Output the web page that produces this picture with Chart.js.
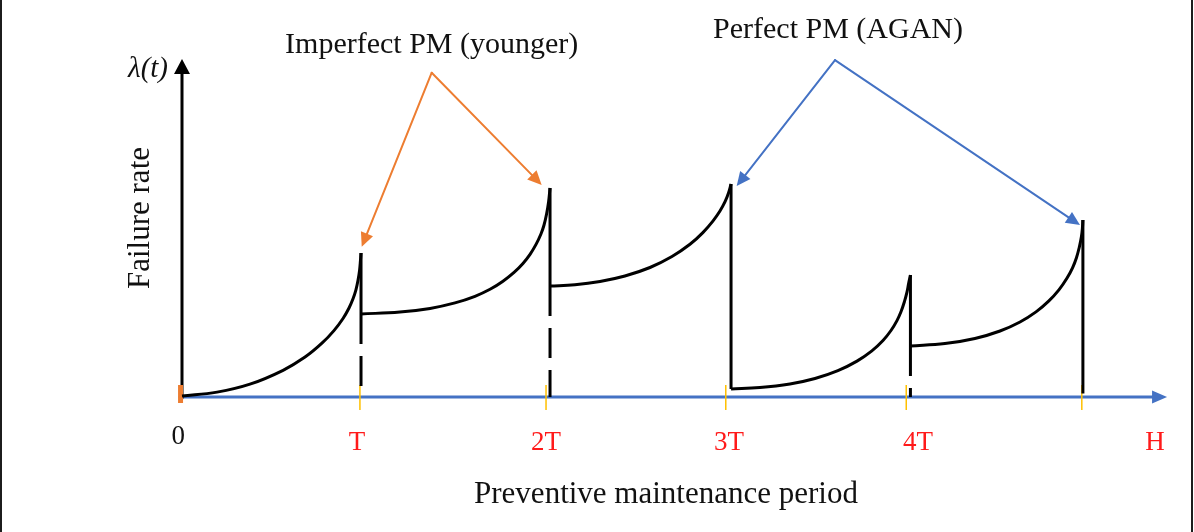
<!DOCTYPE html>
<html>
<head>
<meta charset="utf-8">
<script src="https://cdn.jsdelivr.net/npm/chart.js@4/dist/chart.umd.min.js"></script>
<style>
  html, body { margin: 0; padding: 0; background: #fff; }
  #wrap { position: relative; width: 1194px; height: 532px; overflow: hidden; background: #fff; }
  #wrap canvas { display: block; }
  .edge { position: absolute; top: 0; bottom: 0; width: 2px; background: #1c1c1c; }
</style>
</head>
<body>
<div id="wrap">
  <canvas id="c" width="1194" height="532"></canvas>
  <div class="edge" style="left:0"></div>
  <div class="edge" style="left:1191px"></div>
</div>
<script>
// Time axis is measured in PM intervals (T); failure rate in arbitrary units.

// Tick labels along the period axis and where they sit
const tickLabels = ['0', 'T', '2T', '3T', '4T', 'H'];
const tickValues = [-0.02, 0.963, 2.003, 3.01, 4.05, 5.354];
// Small notches on the axis at each PM instant
const notchValues = [0.979, 2.003, 2.992, 3.985, 4.951];

// Failure-rate curve between successive maintenance actions
const seg1 = [[0, 0.33], [0.193, 1.63], [0.374, 4.27], [0.556, 8.9], [0.677, 13.3], [0.770, 17.93], [0.836, 22.13],
  [0.886, 26.17], [0.919, 29.67], [0.941, 32.73], [0.957, 35.73], [0.968, 38.73], [0.977, 42.23], [0.982, 45.57],
  [0.985, 48.0]];
const seg2 = [[0.985, 27.67], [1.199, 28.33], [1.365, 29.53], [1.502, 31.37], [1.612, 33.57], [1.695, 35.9],
  [1.766, 38.6], [1.827, 41.53], [1.876, 44.53], [1.915, 47.57], [1.948, 50.87], [1.975, 54.33], [1.992, 57.33],
  [2.006, 61.0], [2.017, 65.0], [2.025, 69.67]];
const seg3 = [[2.025, 37.0], [2.162, 37.42], [2.300, 38.5], [2.437, 40.33], [2.575, 43.17], [2.696, 46.83],
  [2.795, 50.9], [2.866, 54.8], [2.921, 58.63], [2.960, 62.0], [2.988, 65.1], [3.007, 68.0], [3.021, 71.0]];
const seg4 = [[3.021, 2.67], [3.180, 3.15], [3.345, 4.35], [3.483, 6.18], [3.609, 8.8], [3.714, 11.97],
  [3.796, 15.37], [3.857, 18.83], [3.901, 22.17], [3.934, 25.47], [3.956, 28.4], [3.975, 31.8], [3.989, 34.97],
  [3.998, 37.8], [4.008, 40.67]];
const seg5 = [[4.008, 17.0], [4.198, 17.8], [4.363, 19.5], [4.501, 22.0], [4.611, 25.0], [4.699, 28.37],
  [4.770, 32.03], [4.825, 35.7], [4.869, 39.57], [4.900, 43.07], [4.922, 46.53], [4.938, 50.13], [4.949, 53.47],
  [4.954, 56.0], [4.957, 59.0]];
const segments = [seg1, seg2, seg3, seg4, seg5];

// Maintenance instants: rate just before, rate just after, and whether it was imperfect
const pmX = [0.985, 2.025, 3.021, 4.008, 4.957];
const pmPeak = [48.0, 69.67, 71.0, 40.67, 59.0];
const pmReset = [27.67, 37.0, 2.67, 17.0, 1.2];
const pmImperfect = [true, true, false, true, false];

// Callouts: text, the point they fan out from, and the peaks they point at
const calloutText = ['Imperfect PM (younger)', 'Perfect PM (AGAN)'];
const calloutColor = ['#ED7D31', '#4472C4'];
const calloutApex = [[1.374, 108.1], [3.593, 112.3]];
const calloutTips = [[[0.989, 50.1], [1.979, 70.7]], [[3.052, 70.3], [4.941, 57.3]]];

const AXIS_END_X = 5.42;   // tip of the period-axis arrow
const AXIS_END_Y = 112.7;  // tip of the rate-axis arrow

const toPts = arr => arr.map(p => ({ x: p[0], y: p[1] }));

const datasets = [];
segments.forEach(seg => datasets.push({
  data: toPts(seg), borderColor: '#000', borderWidth: 3,
  tension: 0.4, pointRadius: 0, clip: false
}));
pmX.forEach((x, i) => {
  datasets.push({
    data: [{ x, y: pmPeak[i] }, { x, y: pmReset[i] }],
    borderColor: '#000', borderWidth: 3, pointRadius: 0, clip: false
  });
  if (pmImperfect[i]) {
    datasets.push({
      data: [{ x, y: pmReset[i] }, { x, y: 0 }],
      borderColor: '#000', borderWidth: 3, borderDash: [30, 12], pointRadius: 0, clip: false
    });
  }
});
notchValues.forEach(x => datasets.push({
  data: [{ x, y: 4 }, { x, y: -4.3 }],
  borderColor: '#FFC000', borderWidth: 1.5, pointRadius: 0, clip: false
}));
// origin marker
datasets.push({
  data: [{ x: -0.008, y: 4 }, { x: -0.008, y: -2 }],
  borderColor: '#ED7D31', borderWidth: 5, pointRadius: 0, clip: false
});

function arrowHead(ctx, x1, y1, x2, y2, len, half, color) {
  const a = Math.atan2(y2 - y1, x2 - x1);
  const bx = x2 - len * Math.cos(a), by = y2 - len * Math.sin(a);
  ctx.fillStyle = color;
  ctx.beginPath();
  ctx.moveTo(x2, y2);
  ctx.lineTo(bx + half * Math.sin(a), by - half * Math.cos(a));
  ctx.lineTo(bx - half * Math.sin(a), by + half * Math.cos(a));
  ctx.closePath();
  ctx.fill();
}
function arrow(ctx, x1, y1, x2, y2, color, width, len, half) {
  ctx.save();
  const a = Math.atan2(y2 - y1, x2 - x1);
  const bx = x2 - (len - 2) * Math.cos(a), by = y2 - (len - 2) * Math.sin(a);
  ctx.strokeStyle = color; ctx.lineWidth = width; ctx.lineCap = 'round';
  ctx.beginPath(); ctx.moveTo(x1, y1); ctx.lineTo(bx, by); ctx.stroke();
  arrowHead(ctx, x1, y1, x2, y2, len, half, color);
  ctx.restore();
}

const diagram = {
  id: 'diagram',
  beforeDatasetsDraw(chart) {
    const { ctx, scales: { x, y } } = chart;
    const x0 = x.getPixelForValue(0), y0 = y.getPixelForValue(0);
    // period axis (blue)
    arrow(ctx, x0 - 2, y0, x.getPixelForValue(AXIS_END_X), y0, '#4472C4', 3, 15, 6.5);
    // failure-rate axis (black)
    arrow(ctx, x0, y0 + 1, x0, y.getPixelForValue(AXIS_END_Y), '#000', 3, 15, 8);
  },
  afterDatasetsDraw(chart) {
    const { ctx, scales: { x, y } } = chart;
    ctx.save();
    // callout arrows and their text
    calloutApex.forEach((ap, i) => {
      const ax = x.getPixelForValue(ap[0]), ay = y.getPixelForValue(ap[1]);
      calloutTips[i].forEach(t => {
        arrow(ctx, ax, ay, x.getPixelForValue(t[0]), y.getPixelForValue(t[1]), calloutColor[i], 2, 14, 6.5);
      });
      ctx.fillStyle = '#111';
      ctx.font = '30px "Liberation Serif", "Times New Roman", serif';
      ctx.textAlign = 'center'; ctx.textBaseline = 'middle';
      ctx.fillText(calloutText[i], ax + (i === 0 ? 0 : 3), ay - (i === 0 ? 28 : 30));
    });
    // tick labels
    ctx.font = '27px "Liberation Serif", "Times New Roman", serif';
    ctx.textAlign = 'center'; ctx.textBaseline = 'middle';
    tickLabels.forEach((lab, i) => {
      ctx.fillStyle = i === 0 ? '#111' : '#FF1A1A';
      ctx.fillText(lab, x.getPixelForValue(tickValues[i]), y.getPixelForValue(0) + (i === 0 ? 40 : 46));
    });
    // axis titles
    ctx.fillStyle = '#111';
    ctx.font = '31px "Liberation Serif", "Times New Roman", serif';
    ctx.fillText('Preventive maintenance period', 666, 495);
    ctx.save();
    ctx.translate(141, 218);
    ctx.rotate(-Math.PI / 2);
    ctx.fillText('Failure rate', 0, 0);
    ctx.restore();
    // rate symbol at the top of the vertical axis
    ctx.font = 'italic 29px "Liberation Serif", "Times New Roman", serif';
    ctx.textAlign = 'right';
    ctx.fillText('\u03BB(t)', 168, 69);
    ctx.restore();
  }
};

new Chart(document.getElementById('c'), {
  type: 'line',
  data: { datasets },
  options: {
    responsive: false,
    animation: false,
    devicePixelRatio: 1,
    layout: { padding: { left: 182, right: 21.5, top: 97, bottom: 135 } },
    plugins: { legend: { display: false }, tooltip: { enabled: false } },
    elements: { line: { tension: 0 } },
    scales: {
      x: { type: 'linear', min: 0, max: 5.45, display: false },
      y: { type: 'linear', min: 0, max: 100, display: false }
    }
  },
  plugins: [diagram]
});
</script>
</body>
</html>
